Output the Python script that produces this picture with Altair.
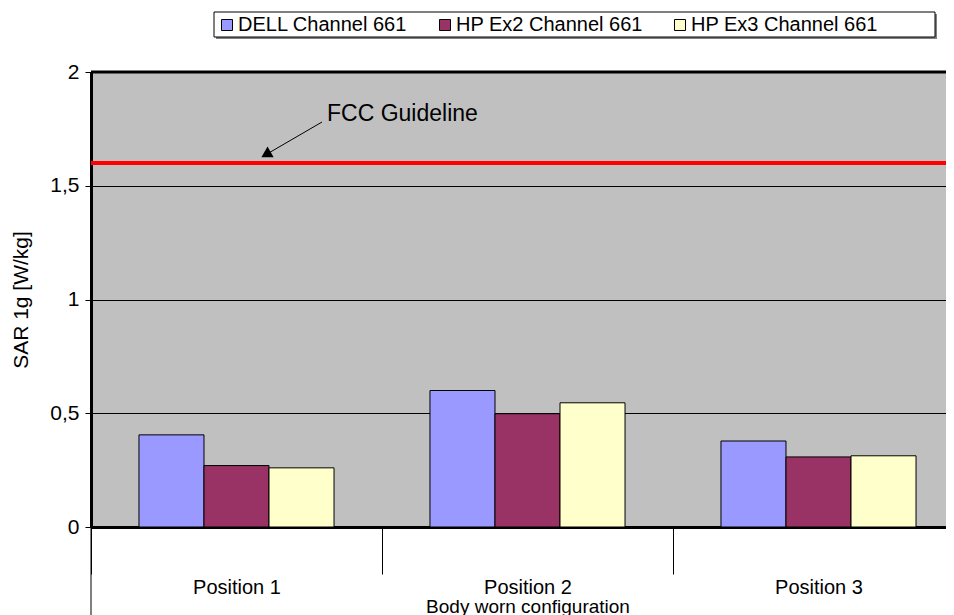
import altair as alt
import pandas as pd

positions = ["Position 1", "Position 2", "Position 3"]
series = ["DELL Channel 661", "HP Ex2 Channel 661", "HP Ex3 Channel 661"]
dell = [0.405, 0.600, 0.378]
hp_ex2 = [0.270, 0.498, 0.308]
hp_ex3 = [0.260, 0.546, 0.313]
colors = ["#9999FF", "#993366", "#FFFFCC"]
fcc_limit = [1.6]
annotation_text = ["FCC Guideline"]

FONT = "Liberation Sans"
W, H = 855, 455
FULL = 873  # three bands of 291 px, the last one runs past the visible edge
BOTTOM = 88

rows = []
for name, vals in zip(series, [dell, hp_ex2, hp_ex3]):
    for p, v in zip(positions, vals):
        rows.append({"position": p, "series": name, "sar": v})
df = pd.DataFrame(rows)

xscale = alt.Scale(domain=positions, range=[0, FULL], paddingInner=0, paddingOuter=0)
yscale = alt.Scale(domain=[0, 2], nice=False)

bars = alt.Chart(df).mark_bar(stroke="black", strokeWidth=1).encode(
    x=alt.X("position:N", scale=xscale, sort=positions,
            axis=alt.Axis(title="Body worn configuration", labelAngle=0, tickBand="extent",
                          tickSize=47, tickColor="black", tickWidth=1,
                          domainColor="black", domainWidth=3,
                          labelFont=FONT, labelFontSize=20, labelColor="black", labelPadding=3,
                          titleFont=FONT, titleFontSize=19, titleFontWeight="normal", titleColor="black",
                          titleX=FULL / 2, titleY=70, titleBaseline="top", titleAlign="center",
                          grid=False)),
    xOffset=alt.XOffset("series:N", sort=series,
                        scale=alt.Scale(domain=series, paddingInner=0, paddingOuter=0.738)),
    y=alt.Y("sar:Q", scale=yscale,
            axis=alt.Axis(title="SAR 1g [W/kg]", values=[0, 0.5, 1, 1.5, 2],
                          labelExpr="replace(format(datum.value, '~g'), '.', ',')",
                          grid=True, gridColor="black", gridWidth=1,
                          tickColor="black", tickSize=6, tickWidth=1,
                          domainColor="black", domainWidth=3,
                          labelFont=FONT, labelFontSize=21, labelColor="black", labelPadding=6,
                          titleFont=FONT, titleFontSize=21, titleFontWeight="normal", titleColor="black",
                          titlePadding=18)),
    color=alt.Color("series:N", scale=alt.Scale(domain=series, range=colors),
                    legend=alt.Legend(orient="none", legendX=123, legendY=-60, direction="horizontal",
                                      columns=3, title=None, labelFont=FONT, labelFontSize=20,
                                      labelColor="black", labelLimit=500,
                                      symbolType="square",
                                      symbolSize=121, symbolStrokeColor="black", symbolStrokeWidth=1,
                                      padding=3, columnPadding=27, labelOffset=1)),
)

fcc = alt.Chart(pd.DataFrame({"limit": fcc_limit})).mark_rule(color="#FF0000", strokeWidth=4).encode(
    y=alt.Y("limit:Q", scale=yscale)
)

label = alt.Chart(pd.DataFrame({"t": annotation_text})).mark_text(
    font=FONT, fontSize=23, align="left", baseline="alphabetic", color="black"
).encode(text="t:N", x=alt.value(236), y=alt.value(49))

arrow_line = alt.Chart(pd.DataFrame({"a": [0]})).mark_rule(color="black", strokeWidth=1).encode(
    x=alt.value(231), y=alt.value(50), x2=alt.value(176), y2=alt.value(82)
)
arrow_head = alt.Chart(pd.DataFrame({"a": [0]})).mark_point(
    shape="triangle-up", filled=True, color="black", size=150, angle=240, opacity=1
).encode(x=alt.value(175), y=alt.value(82.5))

top_border = alt.Chart(pd.DataFrame({"a": [0]})).mark_rule(color="black", strokeWidth=3).encode(
    x=alt.value(0), x2=alt.value(W), y=alt.value(0)
)
left_ext = alt.Chart(pd.DataFrame({"a": [0]})).mark_rule(color="black", strokeWidth=1).encode(
    x=alt.value(0), y=alt.value(H), y2=alt.value(H + BOTTOM)
)
legend_shadow = alt.Chart(pd.DataFrame({"a": [0]})).mark_rect(color="#808080").encode(
    x=alt.value(125), x2=alt.value(846), y=alt.value(-58), y2=alt.value(-33)
)
legend_box = alt.Chart(pd.DataFrame({"a": [0]})).mark_rect(
    fill="white", stroke="black", strokeWidth=1
).encode(
    x=alt.value(123), x2=alt.value(844), y=alt.value(-60), y2=alt.value(-35)
)

chart = alt.layer(legend_shadow, legend_box, bars, fcc, arrow_line, arrow_head, label,
                  top_border, left_ext).properties(
    width=W, height=H,
    autosize=alt.AutoSizeParams(type="none"),
    padding={"left": 83, "top": 64, "right": 0, "bottom": BOTTOM},
    background="white",
).configure_view(fill="#C0C0C0", stroke=None)

chart.save("out.html", embed_options={"renderer": "svg", "actions": False})
